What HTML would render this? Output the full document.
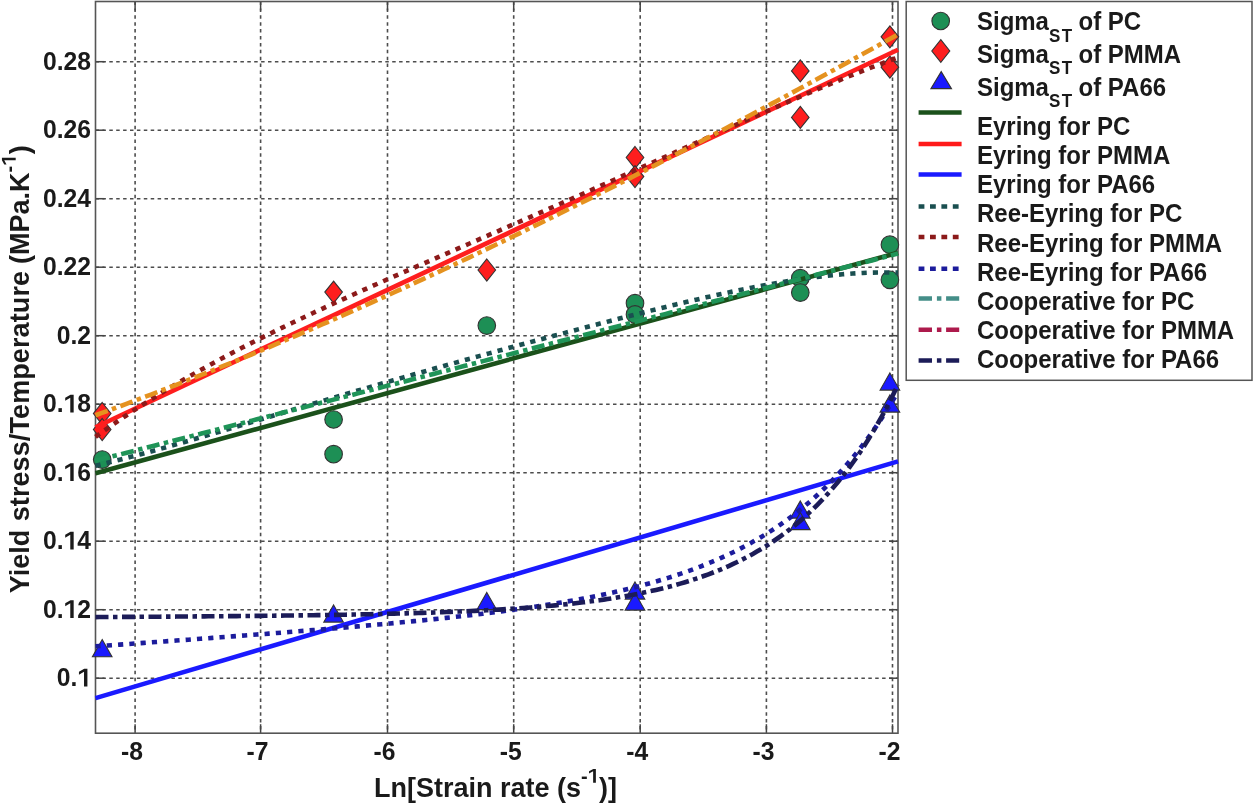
<!DOCTYPE html>
<html><head><meta charset="utf-8"><title>Yield stress chart</title>
<style>html,body{margin:0;padding:0;background:#fff;width:1254px;height:804px;overflow:hidden}
svg text{font-family:"Liberation Sans",sans-serif}
svg{filter:blur(0.6px)}</style></head>
<body>
<svg width="1254" height="804" viewBox="0 0 1254 804" style="position:absolute;left:0;top:0">
<rect width="1254" height="804" fill="#fff"/>
<g stroke="#4d4d4d" stroke-width="1.6" stroke-dasharray="3.5 3.4"><line x1="135.10" y1="1.5" x2="135.10" y2="733.2"/><line x1="260.60" y1="1.5" x2="260.60" y2="733.2"/><line x1="387.50" y1="1.5" x2="387.50" y2="733.2"/><line x1="513.70" y1="1.5" x2="513.70" y2="733.2"/><line x1="640.20" y1="1.5" x2="640.20" y2="733.2"/><line x1="766.40" y1="1.5" x2="766.40" y2="733.2"/><line x1="892.50" y1="1.5" x2="892.50" y2="733.2"/><line x1="95.5" y1="678.20" x2="898.0" y2="678.20"/><line x1="95.5" y1="609.70" x2="898.0" y2="609.70"/><line x1="95.5" y1="541.20" x2="898.0" y2="541.20"/><line x1="95.5" y1="472.70" x2="898.0" y2="472.70"/><line x1="95.5" y1="404.20" x2="898.0" y2="404.20"/><line x1="95.5" y1="335.70" x2="898.0" y2="335.70"/><line x1="95.5" y1="267.20" x2="898.0" y2="267.20"/><line x1="95.5" y1="198.70" x2="898.0" y2="198.70"/><line x1="95.5" y1="130.20" x2="898.0" y2="130.20"/><line x1="95.5" y1="61.70" x2="898.0" y2="61.70"/></g>
<g stroke="#444" stroke-width="1.5"><line x1="135.10" y1="733.2" x2="135.10" y2="724.2"/><line x1="135.10" y1="1.5" x2="135.10" y2="10.5"/><line x1="260.60" y1="733.2" x2="260.60" y2="724.2"/><line x1="260.60" y1="1.5" x2="260.60" y2="10.5"/><line x1="387.50" y1="733.2" x2="387.50" y2="724.2"/><line x1="387.50" y1="1.5" x2="387.50" y2="10.5"/><line x1="513.70" y1="733.2" x2="513.70" y2="724.2"/><line x1="513.70" y1="1.5" x2="513.70" y2="10.5"/><line x1="640.20" y1="733.2" x2="640.20" y2="724.2"/><line x1="640.20" y1="1.5" x2="640.20" y2="10.5"/><line x1="766.40" y1="733.2" x2="766.40" y2="724.2"/><line x1="766.40" y1="1.5" x2="766.40" y2="10.5"/><line x1="892.50" y1="733.2" x2="892.50" y2="724.2"/><line x1="892.50" y1="1.5" x2="892.50" y2="10.5"/><line x1="95.5" y1="678.20" x2="104.5" y2="678.20"/><line x1="898.0" y1="678.20" x2="889.0" y2="678.20"/><line x1="95.5" y1="609.70" x2="104.5" y2="609.70"/><line x1="898.0" y1="609.70" x2="889.0" y2="609.70"/><line x1="95.5" y1="541.20" x2="104.5" y2="541.20"/><line x1="898.0" y1="541.20" x2="889.0" y2="541.20"/><line x1="95.5" y1="472.70" x2="104.5" y2="472.70"/><line x1="898.0" y1="472.70" x2="889.0" y2="472.70"/><line x1="95.5" y1="404.20" x2="104.5" y2="404.20"/><line x1="898.0" y1="404.20" x2="889.0" y2="404.20"/><line x1="95.5" y1="335.70" x2="104.5" y2="335.70"/><line x1="898.0" y1="335.70" x2="889.0" y2="335.70"/><line x1="95.5" y1="267.20" x2="104.5" y2="267.20"/><line x1="898.0" y1="267.20" x2="889.0" y2="267.20"/><line x1="95.5" y1="198.70" x2="104.5" y2="198.70"/><line x1="898.0" y1="198.70" x2="889.0" y2="198.70"/><line x1="95.5" y1="130.20" x2="104.5" y2="130.20"/><line x1="898.0" y1="130.20" x2="889.0" y2="130.20"/><line x1="95.5" y1="61.70" x2="104.5" y2="61.70"/><line x1="898.0" y1="61.70" x2="889.0" y2="61.70"/></g>
<rect x="95.5" y="1.5" width="802.5" height="731.7" fill="none" stroke="#555" stroke-width="1.6"/>
<g><circle cx="102.2" cy="459.6" r="8.8" fill="#1d8f55" stroke="#333" stroke-width="1.1"/><circle cx="333.6" cy="419.5" r="8.8" fill="#1d8f55" stroke="#333" stroke-width="1.1"/><circle cx="333.6" cy="454.2" r="8.8" fill="#1d8f55" stroke="#333" stroke-width="1.1"/><circle cx="486.8" cy="325.6" r="8.8" fill="#1d8f55" stroke="#333" stroke-width="1.1"/><circle cx="635.0" cy="303.2" r="8.8" fill="#1d8f55" stroke="#333" stroke-width="1.1"/><circle cx="635.0" cy="314.4" r="8.8" fill="#1d8f55" stroke="#333" stroke-width="1.1"/><circle cx="800.3" cy="278.2" r="8.8" fill="#1d8f55" stroke="#333" stroke-width="1.1"/><circle cx="800.3" cy="292.6" r="8.8" fill="#1d8f55" stroke="#333" stroke-width="1.1"/><circle cx="889.9" cy="244.7" r="8.8" fill="#1d8f55" stroke="#333" stroke-width="1.1"/><circle cx="889.9" cy="279.8" r="8.8" fill="#1d8f55" stroke="#333" stroke-width="1.1"/><path d="M102.2,402.5 L111.0,413.5 L102.2,424.5 L93.4,413.5 Z" fill="#fe1e1e" stroke="#333" stroke-width="1.1"/><path d="M102.2,418.5 L111.0,429.5 L102.2,440.5 L93.4,429.5 Z" fill="#fe1e1e" stroke="#333" stroke-width="1.1"/><path d="M333.6,281.1 L342.40000000000003,292.1 L333.6,303.1 L324.8,292.1 Z" fill="#fe1e1e" stroke="#333" stroke-width="1.1"/><path d="M486.8,259.0 L495.6,270.0 L486.8,281.0 L478.0,270.0 Z" fill="#fe1e1e" stroke="#333" stroke-width="1.1"/><path d="M635.0,146.5 L643.8,157.5 L635.0,168.5 L626.2,157.5 Z" fill="#fe1e1e" stroke="#333" stroke-width="1.1"/><path d="M635.0,165.6 L643.8,176.6 L635.0,187.6 L626.2,176.6 Z" fill="#fe1e1e" stroke="#333" stroke-width="1.1"/><path d="M800.3,59.900000000000006 L809.0999999999999,70.9 L800.3,81.9 L791.5,70.9 Z" fill="#fe1e1e" stroke="#333" stroke-width="1.1"/><path d="M800.3,106.4 L809.0999999999999,117.4 L800.3,128.4 L791.5,117.4 Z" fill="#fe1e1e" stroke="#333" stroke-width="1.1"/><path d="M889.9,25.799999999999997 L898.6999999999999,36.8 L889.9,47.8 L881.1,36.8 Z" fill="#fe1e1e" stroke="#333" stroke-width="1.1"/><path d="M889.9,56.2 L898.6999999999999,67.2 L889.9,78.2 L881.1,67.2 Z" fill="#fe1e1e" stroke="#333" stroke-width="1.1"/><path d="M102.2,639.6 L112.0,656.8000000000001 L92.4,656.8000000000001 Z" fill="#1a1aff" stroke="#333" stroke-width="1.1"/><path d="M333.6,604.9 L343.40000000000003,622.1 L323.8,622.1 Z" fill="#1a1aff" stroke="#333" stroke-width="1.1"/><path d="M486.8,592.4 L496.6,609.6 L477.0,609.6 Z" fill="#1a1aff" stroke="#333" stroke-width="1.1"/><path d="M635.0,581.9 L644.8,599.1 L625.2,599.1 Z" fill="#1a1aff" stroke="#333" stroke-width="1.1"/><path d="M635.0,592.9 L644.8,610.1 L625.2,610.1 Z" fill="#1a1aff" stroke="#333" stroke-width="1.1"/><path d="M800.3,500.9 L810.0999999999999,518.1 L790.5,518.1 Z" fill="#1a1aff" stroke="#333" stroke-width="1.1"/><path d="M800.3,512.4 L810.0999999999999,529.6 L790.5,529.6 Z" fill="#1a1aff" stroke="#333" stroke-width="1.1"/><path d="M889.9,372.9 L899.6999999999999,390.1 L880.1,390.1 Z" fill="#1a1aff" stroke="#333" stroke-width="1.1"/><path d="M889.9,394.9 L899.6999999999999,412.1 L880.1,412.1 Z" fill="#1a1aff" stroke="#333" stroke-width="1.1"/></g>
<g fill="none" stroke-width="4.6" stroke-linejoin="round">
<path d="M95.50,473.29 L898.00,252.73" stroke="#1b511b"/>
<path d="M95.50,427.25 L898.00,49.78" stroke="#fe1e1e"/>
<path d="M95.50,698.12 L898.00,461.39" stroke="#1a1aff"/>
<path d="M95.50,465.65 L100.55,464.46 L105.59,463.25 L110.64,462.01 L115.69,460.75 L120.74,459.47 L125.78,458.17 L130.83,456.85 L135.88,455.52 L140.92,454.17 L145.97,452.80 L151.02,451.42 L156.07,450.02 L161.11,448.62 L166.16,447.20 L171.21,445.77 L176.25,444.33 L181.30,442.88 L186.35,441.43 L191.40,439.96 L196.44,438.49 L201.49,437.01 L206.54,435.53 L211.58,434.04 L216.63,432.55 L221.68,431.05 L226.73,429.55 L231.77,428.04 L236.82,426.54 L241.87,425.03 L246.92,423.52 L251.96,422.01 L257.01,420.50 L262.06,418.99 L267.10,417.47 L272.15,415.96 L277.20,414.45 L282.25,412.94 L287.29,411.43 L292.34,409.92 L297.39,408.42 L302.43,406.91 L307.48,405.41 L312.53,403.91 L317.58,402.41 L322.62,400.92 L327.67,399.42 L332.72,397.93 L337.76,396.45 L342.81,394.96 L347.86,393.48 L352.91,392.00 L357.95,390.53 L363.00,389.06 L368.05,387.59 L373.09,386.13 L378.14,384.67 L383.19,383.21 L388.24,381.75 L393.28,380.30 L398.33,378.86 L403.38,377.41 L408.42,375.97 L413.47,374.53 L418.52,373.10 L423.57,371.67 L428.61,370.24 L433.66,368.82 L438.71,367.40 L443.75,365.98 L448.80,364.57 L453.85,363.15 L458.90,361.75 L463.94,360.34 L468.99,358.94 L474.04,357.54 L479.08,356.14 L484.13,354.75 L489.18,353.36 L494.23,351.97 L499.27,350.59 L504.32,349.21 L509.37,347.83 L514.42,346.45 L519.46,345.08 L524.51,343.71 L529.56,342.34 L534.60,340.98 L539.65,339.62 L544.70,338.26 L549.75,336.90 L554.79,335.55 L559.84,334.20 L564.89,332.86 L569.93,331.51 L574.98,330.18 L580.03,328.84 L585.08,327.51 L590.12,326.18 L595.17,324.86 L600.22,323.54 L605.26,322.23 L610.31,320.92 L615.36,319.61 L620.41,318.31 L625.45,317.02 L630.50,315.73 L635.55,314.45 L640.59,313.17 L645.64,311.90 L650.69,310.64 L655.74,309.39 L660.78,308.14 L665.83,306.90 L670.88,305.67 L675.92,304.45 L680.97,303.24 L686.02,302.05 L691.07,300.86 L696.11,299.68 L701.16,298.52 L706.21,297.36 L711.25,296.23 L716.30,295.10 L721.35,293.99 L726.40,292.90 L731.44,291.82 L736.49,290.76 L741.54,289.72 L746.58,288.70 L751.63,287.70 L756.68,286.71 L761.73,285.75 L766.77,284.82 L771.82,283.90 L776.87,283.01 L781.92,282.15 L786.96,281.32 L792.01,280.51 L797.06,279.73 L802.10,278.99 L807.15,278.27 L812.20,277.59 L817.25,276.95 L822.29,276.34 L827.34,275.76 L832.39,275.23 L837.43,274.74 L842.48,274.29 L847.53,273.89 L852.58,273.53 L857.62,273.21 L862.67,272.95 L867.72,272.74 L872.76,272.58 L877.81,272.47 L882.86,272.42 L887.91,272.44 L892.95,272.51 L898.00,272.64" stroke="#1a4f50" stroke-dasharray="5.2 6.1"/>
<path d="M95.50,436.90 L100.55,433.25 L105.59,429.65 L110.64,426.11 L115.69,422.61 L120.74,419.16 L125.78,415.75 L130.83,412.39 L135.88,409.08 L140.92,405.81 L145.97,402.58 L151.02,399.39 L156.07,396.24 L161.11,393.13 L166.16,390.05 L171.21,387.02 L176.25,384.02 L181.30,381.05 L186.35,378.12 L191.40,375.22 L196.44,372.35 L201.49,369.51 L206.54,366.71 L211.58,363.93 L216.63,361.18 L221.68,358.46 L226.73,355.76 L231.77,353.10 L236.82,350.45 L241.87,347.83 L246.92,345.23 L251.96,342.66 L257.01,340.10 L262.06,337.57 L267.10,335.06 L272.15,332.57 L277.20,330.09 L282.25,327.63 L287.29,325.20 L292.34,322.77 L297.39,320.36 L302.43,317.97 L307.48,315.59 L312.53,313.23 L317.58,310.88 L322.62,308.54 L327.67,306.21 L332.72,303.90 L337.76,301.59 L342.81,299.30 L347.86,297.01 L352.91,294.73 L357.95,292.47 L363.00,290.20 L368.05,287.95 L373.09,285.71 L378.14,283.47 L383.19,281.23 L388.24,279.00 L393.28,276.78 L398.33,274.56 L403.38,272.35 L408.42,270.13 L413.47,267.93 L418.52,265.72 L423.57,263.52 L428.61,261.32 L433.66,259.12 L438.71,256.92 L443.75,254.73 L448.80,252.53 L453.85,250.34 L458.90,248.14 L463.94,245.95 L468.99,243.76 L474.04,241.56 L479.08,239.36 L484.13,237.17 L489.18,234.97 L494.23,232.77 L499.27,230.57 L504.32,228.37 L509.37,226.16 L514.42,223.95 L519.46,221.74 L524.51,219.53 L529.56,217.32 L534.60,215.10 L539.65,212.88 L544.70,210.66 L549.75,208.44 L554.79,206.21 L559.84,203.98 L564.89,201.74 L569.93,199.51 L574.98,197.27 L580.03,195.02 L585.08,192.78 L590.12,190.53 L595.17,188.28 L600.22,186.03 L605.26,183.77 L610.31,181.51 L615.36,179.25 L620.41,176.98 L625.45,174.72 L630.50,172.45 L635.55,170.18 L640.59,167.91 L645.64,165.63 L650.69,163.36 L655.74,161.08 L660.78,158.80 L665.83,156.53 L670.88,154.25 L675.92,151.97 L680.97,149.69 L686.02,147.41 L691.07,145.13 L696.11,142.85 L701.16,140.58 L706.21,138.30 L711.25,136.03 L716.30,133.76 L721.35,131.49 L726.40,129.22 L731.44,126.96 L736.49,124.70 L741.54,122.45 L746.58,120.20 L751.63,117.95 L756.68,115.71 L761.73,113.48 L766.77,111.25 L771.82,109.03 L776.87,106.82 L781.92,104.61 L786.96,102.41 L792.01,100.22 L797.06,98.05 L802.10,95.88 L807.15,93.72 L812.20,91.57 L817.25,89.44 L822.29,87.31 L827.34,85.20 L832.39,83.11 L837.43,81.03 L842.48,78.96 L847.53,76.91 L852.58,74.87 L857.62,72.86 L862.67,70.86 L867.72,68.87 L872.76,66.91 L877.81,64.97 L882.86,63.05 L887.91,61.15 L892.95,59.27 L898.00,57.42" stroke="#8c1a1a" stroke-dasharray="5.2 6.1"/>
<path d="M95.50,646.33 L99.53,646.04 L103.57,645.76 L107.60,645.47 L111.63,645.18 L115.66,644.90 L119.70,644.61 L123.73,644.32 L127.76,644.03 L131.79,643.75 L135.83,643.46 L139.86,643.17 L143.89,642.88 L147.92,642.59 L151.96,642.30 L155.99,642.01 L160.02,641.72 L164.06,641.43 L168.09,641.13 L172.12,640.84 L176.15,640.55 L180.19,640.25 L184.22,639.96 L188.25,639.67 L192.28,639.37 L196.32,639.07 L200.35,638.78 L204.38,638.48 L208.41,638.18 L212.45,637.88 L216.48,637.58 L220.51,637.28 L224.55,636.98 L228.58,636.68 L232.61,636.38 L236.64,636.07 L240.68,635.77 L244.71,635.46 L248.74,635.16 L252.77,634.85 L256.81,634.54 L260.84,634.23 L264.87,633.92 L268.90,633.61 L272.94,633.30 L276.97,632.98 L281.00,632.67 L285.04,632.35 L289.07,632.03 L293.10,631.71 L297.13,631.39 L301.17,631.07 L305.20,630.74 L309.23,630.42 L313.26,630.09 L317.30,629.76 L321.33,629.43 L325.36,629.10 L329.39,628.76 L333.43,628.43 L337.46,628.09 L341.49,627.75 L345.53,627.40 L349.56,627.06 L353.59,626.71 L357.62,626.36 L361.66,626.01 L365.69,625.65 L369.72,625.29 L373.75,624.93 L377.79,624.57 L381.82,624.20 L385.85,623.83 L389.88,623.46 L393.92,623.09 L397.95,622.71 L401.98,622.32 L406.02,621.94 L410.05,621.55 L414.08,621.15 L418.11,620.75 L422.15,620.35 L426.18,619.95 L430.21,619.54 L434.24,619.12 L438.28,618.70 L442.31,618.27 L446.34,617.84 L450.37,617.41 L454.41,616.97 L458.44,616.52 L462.47,616.07 L466.51,615.61 L470.54,615.15 L474.57,614.68 L478.60,614.20 L482.64,613.72 L486.67,613.22 L490.70,612.73 L494.73,612.22 L498.77,611.71 L502.80,611.18 L506.83,610.65 L510.86,610.11 L514.90,609.57 L518.93,609.01 L522.96,608.44 L526.99,607.86 L531.03,607.28 L535.06,606.68 L539.09,606.07 L543.13,605.45 L547.16,604.82 L551.19,604.18 L555.22,603.52 L559.26,602.85 L563.29,602.17 L567.32,601.47 L571.35,600.76 L575.39,600.03 L579.42,599.29 L583.45,598.54 L587.48,597.76 L591.52,596.97 L595.55,596.16 L599.58,595.34 L603.62,594.49 L607.65,593.63 L611.68,592.74 L615.71,591.84 L619.75,590.91 L623.78,589.96 L627.81,588.99 L631.84,588.00 L635.88,586.98 L639.91,585.93 L643.94,584.86 L647.97,583.76 L652.01,582.63 L656.04,581.48 L660.07,580.29 L664.11,579.07 L668.14,577.83 L672.17,576.54 L676.20,575.23 L680.24,573.87 L684.27,572.49 L688.30,571.06 L692.33,569.59 L696.37,568.08 L700.40,566.54 L704.43,564.94 L708.46,563.31 L712.50,561.62 L716.53,559.89 L720.56,558.11 L724.60,556.27 L728.63,554.39 L732.66,552.45 L736.69,550.45 L740.73,548.39 L744.76,546.27 L748.79,544.09 L752.82,541.85 L756.86,539.53 L760.89,537.15 L764.92,534.70 L768.95,532.17 L772.99,529.56 L777.02,526.87 L781.05,524.11 L785.09,521.25 L789.12,518.31 L793.15,515.28 L797.18,512.15 L801.22,508.93 L805.25,505.60 L809.28,502.18 L813.31,498.64 L817.35,494.99 L821.38,491.23 L825.41,487.35 L829.44,483.34 L833.48,479.21 L837.51,474.94 L841.54,470.54 L845.58,466.00 L849.61,461.31 L853.64,456.47 L857.67,451.48 L861.71,446.32 L865.74,441.00 L869.77,435.51 L873.80,429.83 L877.84,423.98 L881.87,417.93 L885.90,411.68 L889.93,405.23 L893.97,398.57 L898.00,391.70" stroke="#1c1c9c" stroke-dasharray="5.2 6.1"/>
<path d="M95.50,460.68 L100.55,459.39 L105.59,458.10 L110.64,456.81 L115.69,455.52 L120.74,454.23 L125.78,452.94 L130.83,451.65 L135.88,450.36 L140.92,449.07 L145.97,447.78 L151.02,446.48 L156.07,445.19 L161.11,443.90 L166.16,442.61 L171.21,441.32 L176.25,440.02 L181.30,438.73 L186.35,437.44 L191.40,436.14 L196.44,434.85 L201.49,433.56 L206.54,432.26 L211.58,430.97 L216.63,429.68 L221.68,428.38 L226.73,427.09 L231.77,425.80 L236.82,424.50 L241.87,423.21 L246.92,421.91 L251.96,420.62 L257.01,419.32 L262.06,418.03 L267.10,416.73 L272.15,415.44 L277.20,414.14 L282.25,412.84 L287.29,411.55 L292.34,410.25 L297.39,408.96 L302.43,407.66 L307.48,406.36 L312.53,405.07 L317.58,403.77 L322.62,402.47 L327.67,401.17 L332.72,399.88 L337.76,398.58 L342.81,397.28 L347.86,395.98 L352.91,394.69 L357.95,393.39 L363.00,392.09 L368.05,390.79 L373.09,389.49 L378.14,388.19 L383.19,386.89 L388.24,385.60 L393.28,384.30 L398.33,383.00 L403.38,381.70 L408.42,380.40 L413.47,379.10 L418.52,377.80 L423.57,376.50 L428.61,375.20 L433.66,373.90 L438.71,372.60 L443.75,371.29 L448.80,369.99 L453.85,368.69 L458.90,367.39 L463.94,366.09 L468.99,364.79 L474.04,363.49 L479.08,362.18 L484.13,360.88 L489.18,359.58 L494.23,358.28 L499.27,356.97 L504.32,355.67 L509.37,354.37 L514.42,353.07 L519.46,351.76 L524.51,350.46 L529.56,349.16 L534.60,347.85 L539.65,346.55 L544.70,345.24 L549.75,343.94 L554.79,342.64 L559.84,341.33 L564.89,340.03 L569.93,338.72 L574.98,337.42 L580.03,336.11 L585.08,334.81 L590.12,333.50 L595.17,332.20 L600.22,330.89 L605.26,329.58 L610.31,328.28 L615.36,326.97 L620.41,325.67 L625.45,324.36 L630.50,323.05 L635.55,321.75 L640.59,320.44 L645.64,319.13 L650.69,317.82 L655.74,316.52 L660.78,315.21 L665.83,313.90 L670.88,312.59 L675.92,311.29 L680.97,309.98 L686.02,308.67 L691.07,307.36 L696.11,306.05 L701.16,304.74 L706.21,303.43 L711.25,302.12 L716.30,300.81 L721.35,299.51 L726.40,298.20 L731.44,296.89 L736.49,295.58 L741.54,294.27 L746.58,292.96 L751.63,291.64 L756.68,290.33 L761.73,289.02 L766.77,287.71 L771.82,286.40 L776.87,285.09 L781.92,283.78 L786.96,282.47 L792.01,281.16 L797.06,279.84 L802.10,278.53 L807.15,277.22 L812.20,275.91 L817.25,274.59 L822.29,273.28 L827.34,271.97 L832.39,270.66 L837.43,269.34 L842.48,268.03 L847.53,266.72 L852.58,265.40 L857.62,264.09 L862.67,262.77 L867.72,261.46 L872.76,260.15 L877.81,258.83 L882.86,257.52 L887.91,256.20 L892.95,254.89 L898.00,253.57" stroke="#1f9458" stroke-dasharray="13 4.5 4.5 4.5"/>
<path d="M95.50,415.27 L100.55,413.43 L105.59,411.58 L110.64,409.72 L115.69,407.85 L120.74,405.97 L125.78,404.09 L130.83,402.19 L135.88,400.29 L140.92,398.38 L145.97,396.46 L151.02,394.53 L156.07,392.60 L161.11,390.65 L166.16,388.70 L171.21,386.74 L176.25,384.77 L181.30,382.79 L186.35,380.81 L191.40,378.81 L196.44,376.81 L201.49,374.80 L206.54,372.78 L211.58,370.76 L216.63,368.72 L221.68,366.68 L226.73,364.63 L231.77,362.57 L236.82,360.51 L241.87,358.43 L246.92,356.35 L251.96,354.26 L257.01,352.17 L262.06,350.06 L267.10,347.95 L272.15,345.83 L277.20,343.71 L282.25,341.57 L287.29,339.43 L292.34,337.28 L297.39,335.12 L302.43,332.96 L307.48,330.79 L312.53,328.61 L317.58,326.42 L322.62,324.23 L327.67,322.02 L332.72,319.82 L337.76,317.60 L342.81,315.38 L347.86,313.15 L352.91,310.91 L357.95,308.67 L363.00,306.42 L368.05,304.16 L373.09,301.89 L378.14,299.62 L383.19,297.34 L388.24,295.05 L393.28,292.76 L398.33,290.46 L403.38,288.16 L408.42,285.84 L413.47,283.52 L418.52,281.20 L423.57,278.86 L428.61,276.52 L433.66,274.18 L438.71,271.82 L443.75,269.46 L448.80,267.10 L453.85,264.73 L458.90,262.35 L463.94,259.96 L468.99,257.57 L474.04,255.17 L479.08,252.77 L484.13,250.36 L489.18,247.94 L494.23,245.52 L499.27,243.09 L504.32,240.65 L509.37,238.21 L514.42,235.77 L519.46,233.31 L524.51,230.85 L529.56,228.39 L534.60,225.92 L539.65,223.44 L544.70,220.95 L549.75,218.47 L554.79,215.97 L559.84,213.47 L564.89,210.96 L569.93,208.45 L574.98,205.93 L580.03,203.41 L585.08,200.88 L590.12,198.35 L595.17,195.81 L600.22,193.26 L605.26,190.71 L610.31,188.15 L615.36,185.59 L620.41,183.02 L625.45,180.45 L630.50,177.87 L635.55,175.29 L640.59,172.70 L645.64,170.10 L650.69,167.50 L655.74,164.90 L660.78,162.29 L665.83,159.67 L670.88,157.05 L675.92,154.43 L680.97,151.80 L686.02,149.16 L691.07,146.52 L696.11,143.88 L701.16,141.23 L706.21,138.58 L711.25,135.92 L716.30,133.25 L721.35,130.58 L726.40,127.91 L731.44,125.23 L736.49,122.55 L741.54,119.86 L746.58,117.17 L751.63,114.47 L756.68,111.77 L761.73,109.06 L766.77,106.35 L771.82,103.64 L776.87,100.92 L781.92,98.20 L786.96,95.47 L792.01,92.74 L797.06,90.00 L802.10,87.26 L807.15,84.51 L812.20,81.76 L817.25,79.01 L822.29,76.25 L827.34,73.49 L832.39,70.73 L837.43,67.96 L842.48,65.18 L847.53,62.41 L852.58,59.62 L857.62,56.84 L862.67,54.05 L867.72,51.26 L872.76,48.46 L877.81,45.66 L882.86,42.85 L887.91,40.05 L892.95,37.23 L898.00,34.42" stroke="#e5921f" stroke-dasharray="13 4.5 4.5 4.5"/>
<path d="M95.50,617.08 L99.53,617.06 L103.57,617.03 L107.60,617.01 L111.63,616.98 L115.66,616.96 L119.70,616.94 L123.73,616.91 L127.76,616.89 L131.79,616.86 L135.83,616.84 L139.86,616.81 L143.89,616.79 L147.92,616.76 L151.96,616.73 L155.99,616.71 L160.02,616.68 L164.06,616.65 L168.09,616.62 L172.12,616.59 L176.15,616.57 L180.19,616.54 L184.22,616.51 L188.25,616.48 L192.28,616.45 L196.32,616.42 L200.35,616.38 L204.38,616.35 L208.41,616.32 L212.45,616.29 L216.48,616.25 L220.51,616.22 L224.55,616.18 L228.58,616.15 L232.61,616.11 L236.64,616.08 L240.68,616.04 L244.71,616.00 L248.74,615.96 L252.77,615.92 L256.81,615.88 L260.84,615.84 L264.87,615.79 L268.90,615.75 L272.94,615.71 L276.97,615.66 L281.00,615.61 L285.04,615.57 L289.07,615.52 L293.10,615.47 L297.13,615.42 L301.17,615.36 L305.20,615.31 L309.23,615.25 L313.26,615.20 L317.30,615.14 L321.33,615.08 L325.36,615.02 L329.39,614.96 L333.43,614.89 L337.46,614.83 L341.49,614.76 L345.53,614.69 L349.56,614.62 L353.59,614.54 L357.62,614.47 L361.66,614.39 L365.69,614.31 L369.72,614.22 L373.75,614.14 L377.79,614.05 L381.82,613.96 L385.85,613.87 L389.88,613.77 L393.92,613.67 L397.95,613.57 L401.98,613.46 L406.02,613.35 L410.05,613.24 L414.08,613.13 L418.11,613.01 L422.15,612.88 L426.18,612.76 L430.21,612.62 L434.24,612.49 L438.28,612.35 L442.31,612.20 L446.34,612.05 L450.37,611.90 L454.41,611.74 L458.44,611.57 L462.47,611.40 L466.51,611.23 L470.54,611.05 L474.57,610.86 L478.60,610.66 L482.64,610.46 L486.67,610.25 L490.70,610.04 L494.73,609.81 L498.77,609.58 L502.80,609.34 L506.83,609.09 L510.86,608.84 L514.90,608.57 L518.93,608.30 L522.96,608.01 L526.99,607.72 L531.03,607.42 L535.06,607.10 L539.09,606.77 L543.13,606.43 L547.16,606.08 L551.19,605.72 L555.22,605.35 L559.26,604.96 L563.29,604.55 L567.32,604.13 L571.35,603.70 L575.39,603.25 L579.42,602.79 L583.45,602.31 L587.48,601.81 L591.52,601.29 L595.55,600.75 L599.58,600.20 L603.62,599.62 L607.65,599.02 L611.68,598.40 L615.71,597.76 L619.75,597.10 L623.78,596.41 L627.81,595.69 L631.84,594.95 L635.88,594.18 L639.91,593.39 L643.94,592.56 L647.97,591.70 L652.01,590.82 L656.04,589.89 L660.07,588.94 L664.11,587.95 L668.14,586.92 L672.17,585.86 L676.20,584.75 L680.24,583.61 L684.27,582.42 L688.30,581.19 L692.33,579.91 L696.37,578.58 L700.40,577.21 L704.43,575.78 L708.46,574.30 L712.50,572.77 L716.53,571.18 L720.56,569.53 L724.60,567.81 L728.63,566.04 L732.66,564.20 L736.69,562.28 L740.73,560.30 L744.76,558.24 L748.79,556.11 L752.82,553.90 L756.86,551.60 L760.89,549.22 L764.92,546.75 L768.95,544.19 L772.99,541.53 L777.02,538.77 L781.05,535.91 L785.09,532.94 L789.12,529.86 L793.15,526.66 L797.18,523.35 L801.22,519.91 L805.25,516.34 L809.28,512.63 L813.31,508.79 L817.35,504.81 L821.38,500.67 L825.41,496.38 L829.44,491.93 L833.48,487.31 L837.51,482.52 L841.54,477.54 L845.58,472.39 L849.61,467.03 L853.64,461.48 L857.67,455.72 L861.71,449.74 L865.74,443.53 L869.77,437.10 L873.80,430.42 L877.84,423.49 L881.87,416.30 L885.90,408.84 L889.93,401.10 L893.97,393.06 L898.00,384.73" stroke="#1c1c58" stroke-dasharray="13 4.5 4.5 4.5"/>
</g>
<g font-family='"Liberation Sans", sans-serif' font-weight="bold" font-size="24.7" fill="#1a1a1a"><text x="56.66" y="686.50" transform="matrix(1 0 0 1.04 0 -27.460)">0.<tspan fill="transparent">1</tspan></text><text x="42.93" y="618.00" transform="matrix(1 0 0 1.04 0 -24.720)">0.<tspan fill="transparent">1</tspan>2</text><text x="42.93" y="549.50" transform="matrix(1 0 0 1.04 0 -21.980)">0.<tspan fill="transparent">1</tspan>4</text><text x="42.93" y="481.00" transform="matrix(1 0 0 1.04 0 -19.240)">0.<tspan fill="transparent">1</tspan>6</text><text x="42.93" y="412.50" transform="matrix(1 0 0 1.04 0 -16.500)">0.<tspan fill="transparent">1</tspan>8</text><text x="56.66" y="344.00" transform="matrix(1 0 0 1.04 0 -13.760)">0.2</text><text x="42.93" y="275.50" transform="matrix(1 0 0 1.04 0 -11.020)">0.22</text><text x="42.93" y="207.00" transform="matrix(1 0 0 1.04 0 -8.280)">0.24</text><text x="42.93" y="138.50" transform="matrix(1 0 0 1.04 0 -5.540)">0.26</text><text x="42.93" y="70.00" transform="matrix(1 0 0 1.04 0 -2.800)">0.28</text><text x="132.10" y="759.8" text-anchor="middle" transform="matrix(1 0 0 1.04 0 -30.392)">-8</text><text x="257.60" y="759.8" text-anchor="middle" transform="matrix(1 0 0 1.04 0 -30.392)">-7</text><text x="384.50" y="759.8" text-anchor="middle" transform="matrix(1 0 0 1.04 0 -30.392)">-6</text><text x="510.70" y="759.8" text-anchor="middle" transform="matrix(1 0 0 1.04 0 -30.392)">-5</text><text x="637.20" y="759.8" text-anchor="middle" transform="matrix(1 0 0 1.04 0 -30.392)">-4</text><text x="763.40" y="759.8" text-anchor="middle" transform="matrix(1 0 0 1.04 0 -30.392)">-3</text><text x="889.50" y="759.8" text-anchor="middle" transform="matrix(1 0 0 1.04 0 -30.392)">-2</text></g>
<path fill="#1a1a1a" d="M84.02,686.50 L84.02,671.82 L78.95,674.71 L78.95,671.82 L84.20,668.83 L87.41,668.83 L87.41,686.50 Z M70.28,618.00 L70.28,603.32 L65.21,606.21 L65.21,603.32 L70.46,600.33 L73.67,600.33 L73.67,618.00 Z M70.28,549.50 L70.28,534.82 L65.21,537.71 L65.21,534.82 L70.46,531.83 L73.67,531.83 L73.67,549.50 Z M70.28,481.00 L70.28,466.32 L65.21,469.21 L65.21,466.32 L70.46,463.33 L73.67,463.33 L73.67,481.00 Z M70.28,412.50 L70.28,397.82 L65.21,400.71 L65.21,397.82 L70.46,394.83 L73.67,394.83 L73.67,412.50 Z"/>
<g font-family='"Liberation Sans", sans-serif' font-weight="bold" fill="#1a1a1a" font-size="27"><text x="374.1" y="796.8">Ln[Strain rate (s</text><text x="581" y="782.8" font-size="20">-<tspan fill="transparent">1</tspan></text><path d="M593.13,782.80 L593.13,771.37 L589.03,773.62 L589.03,771.37 L593.28,769.04 L595.87,769.04 L595.87,782.80 Z"/><text x="599" y="796.8">)]</text></g>
<g font-family='"Liberation Sans", sans-serif' font-weight="bold" fill="#1a1a1a" font-size="27" transform="translate(29.3,593.2) rotate(-90)"><text x="0" y="0">Yield</text><text x="71.9" y="0" letter-spacing="0.1">stress/Temperature</text><text x="329.1" y="0">(MPa.K</text><text x="420.7" y="-13.6" font-size="20">-<tspan fill="transparent">1</tspan></text><path d="M432.83,-13.60 L432.83,-25.03 L428.73,-22.78 L428.73,-25.03 L432.98,-27.36 L435.57,-27.36 L435.57,-13.60 Z"/><text x="438.9" y="0">)</text></g>
<rect x="906.2" y="1.5" width="345.79999999999995" height="378.8" fill="#fff" stroke="#555" stroke-width="1.5"/>
<g font-family='"Liberation Sans", sans-serif' font-weight="bold" font-size="24" fill="#1a1a1a"><text x="977" y="30.5" transform="matrix(1 0 0 1.04 0 -1.220)">Sigma<tspan font-size="17" letter-spacing="1.4" dy="10.8">ST</tspan><tspan dy="-10.8" dx="-1.6" letter-spacing="0"> of PC</tspan></text><text x="977" y="62.8" transform="matrix(1 0 0 1.04 0 -2.512)">Sigma<tspan font-size="17" letter-spacing="1.4" dy="10.8">ST</tspan><tspan dy="-10.8" dx="-1.6" letter-spacing="0"> of PMMA</tspan></text><text x="977" y="95.6" transform="matrix(1 0 0 1.04 0 -3.824)">Sigma<tspan font-size="17" letter-spacing="1.4" dy="10.8">ST</tspan><tspan dy="-10.8" dx="-1.6" letter-spacing="0"> of PA66</tspan></text><text x="977" y="135.00" transform="matrix(1 0 0 1.04 0 -5.400)">Eyring for PC</text><text x="977" y="164.15" transform="matrix(1 0 0 1.04 0 -6.566)">Eyring for PMMA</text><text x="977" y="193.30" transform="matrix(1 0 0 1.04 0 -7.732)">Eyring for PA66</text><text x="977" y="222.45" transform="matrix(1 0 0 1.04 0 -8.898)">Ree-Eyring for PC</text><text x="977" y="251.60" transform="matrix(1 0 0 1.04 0 -10.064)">Ree-Eyring for PMMA</text><text x="977" y="280.75" transform="matrix(1 0 0 1.04 0 -11.230)">Ree-Eyring for PA66</text><text x="977" y="309.90" transform="matrix(1 0 0 1.04 0 -12.396)">Cooperative for PC</text><text x="977" y="339.05" transform="matrix(1 0 0 1.04 0 -13.562)">Cooperative for PMMA</text><text x="977" y="368.20" transform="matrix(1 0 0 1.04 0 -14.728)">Cooperative for PA66</text></g>
<circle cx="940.7" cy="21.0" r="8.8" fill="#1d8f55" stroke="#333" stroke-width="1.1"/><path d="M940.8,39.7 L949.8,51.0 L940.8,62.3 L931.8,51.0 Z" fill="#fe1e1e" stroke="#333" stroke-width="1.1"/><path d="M941.2,71.6 L951.5,88.6 L930.9000000000001,88.6 Z" fill="#1a1aff" stroke="#333" stroke-width="1.1"/>
<line x1="918.6" y1="112.5" x2="961.6" y2="112.5" stroke="#1b511b" stroke-width="4.5" />
<line x1="918.6" y1="144.1" x2="961.6" y2="144.1" stroke="#ff1a1a" stroke-width="4.5" />
<line x1="918.6" y1="174.5" x2="961.6" y2="174.5" stroke="#1a1aff" stroke-width="4.5" />
<line x1="918.6" y1="206.4" x2="961.6" y2="206.4" stroke="#1a4f50" stroke-width="4.5" stroke-dasharray="5.8 5.6"/>
<line x1="918.6" y1="237.0" x2="961.6" y2="237.0" stroke="#8c1a1a" stroke-width="4.5" stroke-dasharray="5.8 5.6"/>
<line x1="918.6" y1="268.8" x2="961.6" y2="268.8" stroke="#1c1c9c" stroke-width="4.5" stroke-dasharray="5.8 5.6"/>
<line x1="918.6" y1="298.5" x2="961.6" y2="298.5" stroke="#448e88" stroke-width="4.5" stroke-dasharray="13.4 4.9 4.5 4.7 13.1 20"/>
<line x1="918.6" y1="329.7" x2="961.6" y2="329.7" stroke="#ad1a4c" stroke-width="4.5" stroke-dasharray="13.4 4.9 4.5 4.7 13.1 20"/>
<line x1="918.6" y1="360.4" x2="961.6" y2="360.4" stroke="#1c1c58" stroke-width="4.5" stroke-dasharray="13.4 4.9 4.5 4.7 13.1 20"/>
</svg>
</body></html>
